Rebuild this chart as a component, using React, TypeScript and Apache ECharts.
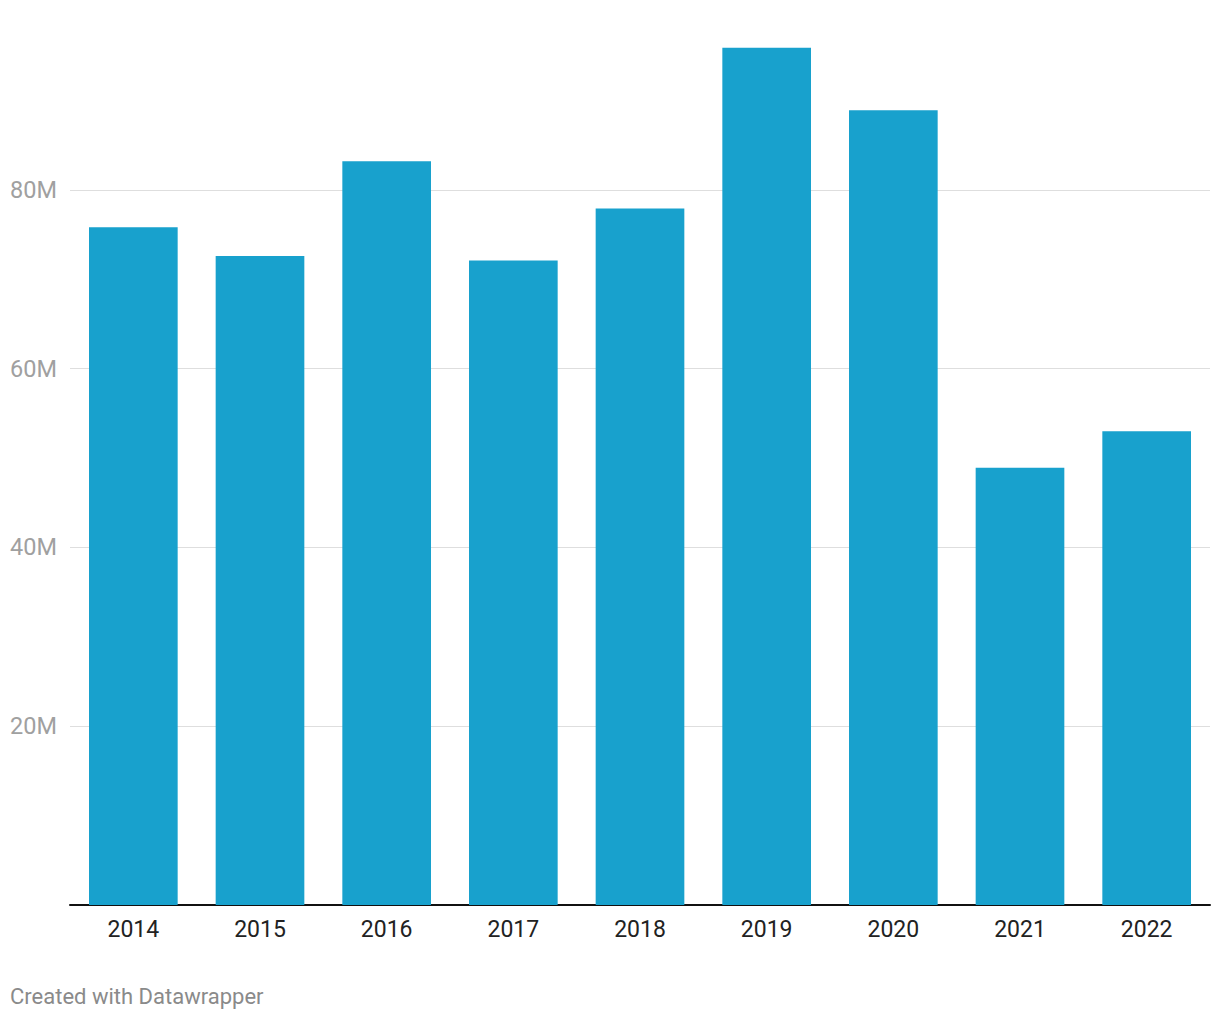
import React, { useEffect, useRef } from "react";
import * as echarts from "echarts";

const categories = ["2014", "2015", "2016", "2017", "2018", "2019", "2020", "2021", "2022"];
const values = [75.8, 72.6, 83.2, 72.1, 77.9, 95.9, 88.9, 48.9, 53.0];
const yTicks = [0, 20, 40, 60, 80, 100];
const footer = "Created with Datawrapper";

export default function App() {
  const ref = useRef<HTMLDivElement>(null);
  useEffect(() => {
    document.body.style.margin = "0";
    const chart = echarts.init(ref.current!, null, { renderer: "svg" });
    chart.setOption({
      animation: false,
      textStyle: { fontFamily: "Roboto" },
      grid: { left: 70, right: 10, top: 11, bottom: 115, containLabel: false },
      xAxis: {
        type: "category",
        data: categories,
        axisLine: { show: true, lineStyle: { color: "#111", width: 2 } },
        axisTick: { show: false },
        axisLabel: { color: "#222", fontSize: 23, margin: 13, fontFamily: "Roboto" },
      },
      yAxis: {
        type: "value",
        min: yTicks[0],
        max: yTicks[yTicks.length - 1],
        interval: 20,
        axisLine: { show: false },
        axisTick: { show: false },
        axisLabel: {
          color: "#a0a0a0",
          fontSize: 23.5,
          margin: 13,
          fontFamily: "Roboto",
          showMinLabel: false,
          showMaxLabel: false,
          formatter: (v: number) => `${v}M`,
        },
        splitLine: { show: true, showMinLine: false, showMaxLine: false, lineStyle: { color: "#dedede", width: 1 } },
      },
      series: [
        {
          type: "bar",
          data: values,
          barWidth: "70%",
          itemStyle: { color: "#18a1cd" },
        },
      ],
      graphic: [
        {
          type: "text",
          left: 10,
          top: 985,
          style: { text: footer, fill: "#8a8a8a", fontSize: 22, fontFamily: "Roboto" },
        },
      ],
    });
    return () => chart.dispose();
  }, []);
  return <div ref={ref} style={{ width: 1220, height: 1020 }} />;
}
